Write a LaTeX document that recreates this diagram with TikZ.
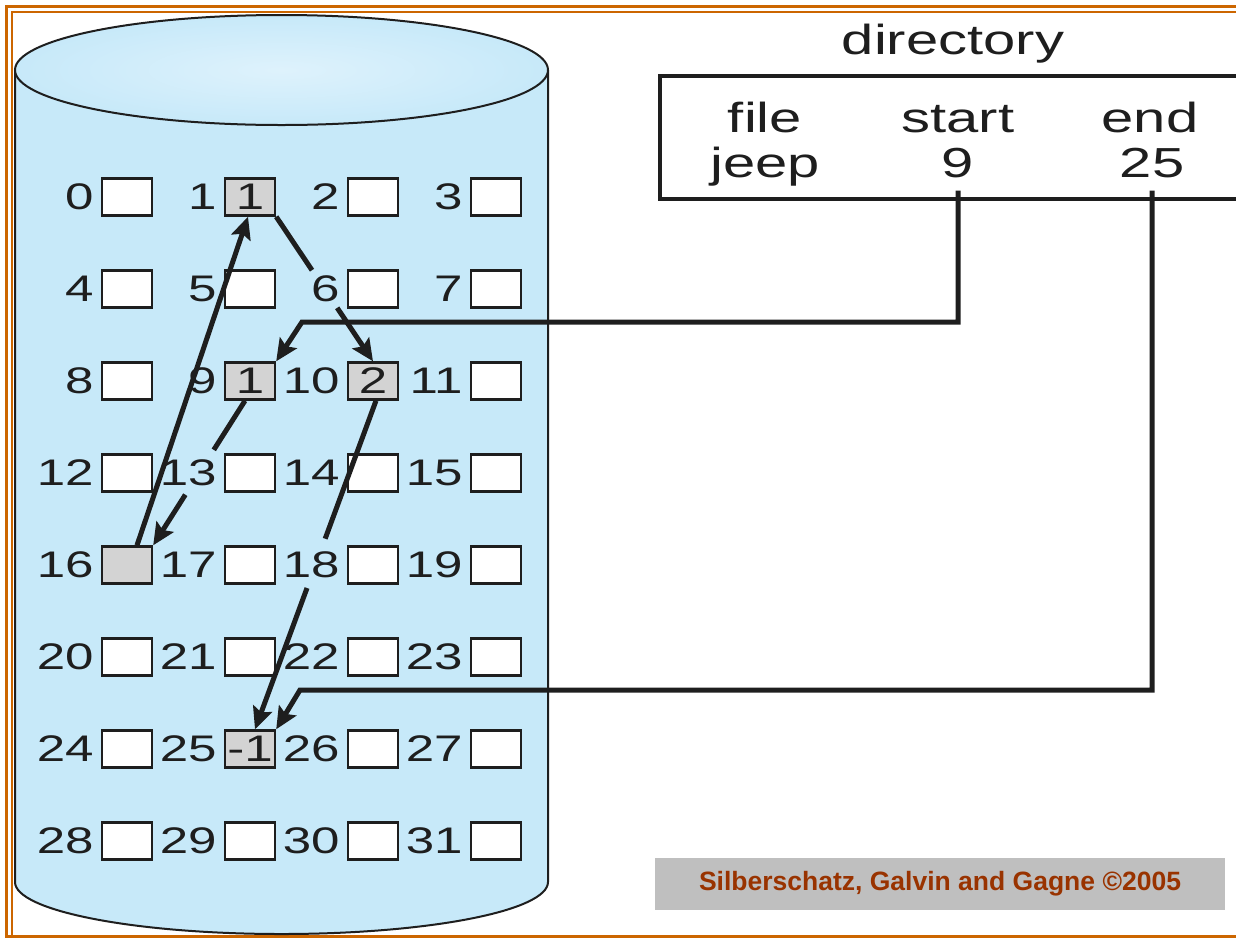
\documentclass[tikz,border=0pt]{standalone}
\usepackage{fontspec}
\setmainfont{Liberation Sans}
\newfontfamily\widesf[FakeStretch=1.38]{Liberation Sans}
\usetikzlibrary{arrows.meta,calc}
\definecolor{cylblue}{RGB}{199,233,249}
\definecolor{toplight}{RGB}{222,242,252}
\definecolor{boxgray}{RGB}{211,211,211}
\definecolor{frameorange}{RGB}{204,102,0}
\definecolor{footgray}{RGB}{191,191,191}
\definecolor{foottext}{RGB}{153,51,0}
\definecolor{ink}{RGB}{30,30,30}
\tikzset{
  blk/.style={draw=ink, line width=2.4pt, fill=white, minimum width=50pt, minimum height=37pt, inner sep=0pt,
    font=\widesf\fontsize{37}{40}\selectfont, text=ink},
  blkfull/.style={blk, fill=boxgray},
  lbl/.style={inner sep=0pt, font=\widesf\fontsize{37}{40}\selectfont, text=ink},
  dtxt/.style={inner sep=0pt, font=\widesf\fontsize{42}{46}\selectfont, text=ink},
  seg/.style={draw=ink, line width=5pt},
  conn/.style={draw=ink, line width=5pt, -{Stealth[length=22pt,width=20pt,inset=4pt]}},
  frameline/.style={draw=frameorange}
}
\begin{document}
\begin{tikzpicture}[x=1pt,y=-1pt]
\useasboundingbox (0,0) rectangle (1236,938);
% frame
\draw[frameline, line width=3pt] (1240,6) -- (6,6) -- (6,936) -- (1240,936);
\draw[frameline, line width=1.8pt] (1240,12) -- (12,12) -- (12,936);
% cylinder
\path[fill=cylblue, draw=ink, line width=2pt] (15,70) -- (15,882)
  arc[start angle=180, end angle=0, x radius=266.5, y radius=52] -- (548,70);
\shadedraw[draw=ink, line width=2pt, inner color=toplight, outer color=cylblue] (281.5,70) ellipse[x radius=266.5, y radius=55];
% blocks
\foreach \n in {0,2,3,4,5,6,7,8,11,12,13,14,15,17,18,19,20,21,22,23,24,26,27,28,29,30,31}{
  \pgfmathtruncatemacro{\r}{int(\n/4)}
  \pgfmathtruncatemacro{\c}{mod(\n,4)}
  \node[blk] (b\n) at ({127+123*\c}, {197+92*\r}) {};
}
\node[blkfull] (b1) at (250,197) {1};
\node[blkfull] (b9) at (250,381) {1};
\node[blkfull] (b10) at (373,381) {2};
\node[blkfull] (b16) at (127,565) {};
\node[blkfull] (b25) at (250,749) {-1};
\foreach \n in {0,...,31}{
  \node[lbl, anchor=east] (l\n) at ([xshift=-7pt]b\n.west) {\n};
}
% directory
\node[dtxt, anchor=base] (dir) at (953,54) {directory};
\draw[line width=4pt, draw=ink] (1245,76) -- (660,76) -- (660,199) -- (1245,199);
\node[dtxt, anchor=base] (hfile) at (765,132) {file};
\node[dtxt, anchor=base] (hstart) at (958,132) {start};
\node[dtxt, anchor=base] (hend) at (1150,132) {end};
\node[dtxt, anchor=base] (jeep) at (765,177) {jeep};
\node[dtxt, anchor=base] (s9) at (958,177) {9};
\node[dtxt, anchor=base] (e25) at (1152,177) {25};
% chain
\coordinate (p9) at ([xshift=-5pt]b9.south);
\draw[seg] (p9) -- ($(p9)!0.34!(b16.north east)$);
\draw[conn] ($(p9)!0.65!(b16.north east)$) -- (b16.north east);
\draw[conn] ([xshift=10pt]b16.north) -- ([xshift=-2pt]b1.south);
\draw[seg] (b1.south east) -- ($(b1.south east)!0.37!(b10.north)$);
\draw[conn] ($(b1.south east)!0.63!(b10.north)$) -- (b10.north);
\coordinate (p10) at ([xshift=3pt]b10.south);
\coordinate (p25) at ([xshift=5pt]b25.north);
\draw[seg] (p10) -- ($(p10)!0.42!(p25)$);
\draw[conn] ($(p10)!0.57!(p25)$) -- (p25);
% directory pointers
\coordinate (c1) at (302,322);
\coordinate (c2) at (300,690);
\draw[conn] ([yshift=-13pt]s9.south) |- (c1) -- (b9.north east);
\draw[conn] ([yshift=-13pt]e25.south) |- (c2) -- (b25.north east);
% footer
\node[fill=footgray, minimum width=570pt, minimum height=52pt, inner sep=0pt, text=foottext,
  font=\bfseries\fontsize{26.5}{30}\selectfont] (foot) at (940,884) {Silberschatz, Galvin and Gagne ©2005};
\end{tikzpicture}
\end{document}
